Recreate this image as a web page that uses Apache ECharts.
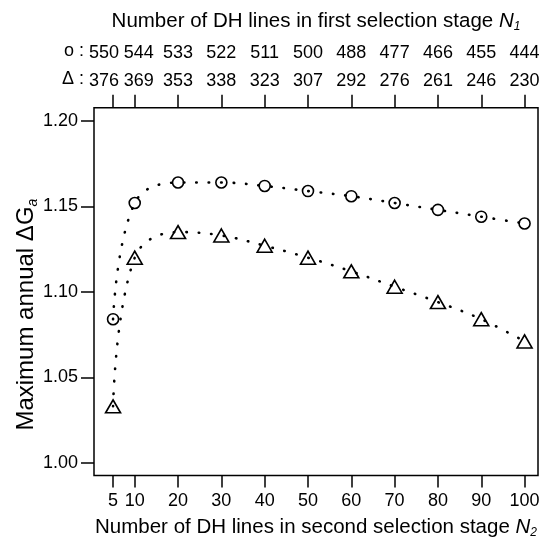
<!DOCTYPE html>
<html lang="en">
<head>
    <meta charset="UTF-8">
    <title>Maximum annual gain</title>
    <style>
        html, body { margin: 0; padding: 0; background: #fff; }
    </style>
</head>
<body>
<div id='main' style="height: 541px;width: 550px"></div>
</body>
<script src="https://cdn.jsdelivr.net/npm/echarts@6.0.0/dist/echarts.min.js"></script>
<script>
    // N2 values (bottom axis) and the matching N1 values shown on top
    var xTicks = [5, 10, 20, 30, 40, 50, 60, 70, 80, 90, 100];
    var n1Circle = ['550', '544', '533', '522', '511', '500', '488', '477', '466', '455', '444'];
    var n1Triangle = ['376', '369', '353', '338', '323', '307', '292', '276', '261', '246', '230'];
    var yTicks = [1.00, 1.05, 1.10, 1.15, 1.20];

    // maximum annual gain
    var circleY = [1.084, 1.152, 1.164, 1.164, 1.162, 1.159, 1.156, 1.152, 1.148, 1.144, 1.140];
    var triangleY = [1.033, 1.120, 1.135, 1.133, 1.127, 1.120, 1.112, 1.103, 1.094, 1.084, 1.071];

    var FONT = "'Liberation Sans', Arial, sans-serif";

    function pairs(ys) {
        return xTicks.map(function (x, i) { return [x, ys[i]]; });
    }

    // first two top labels sit too close, push them apart a little
    function topLabel(arr) {
        return function (v) {
            var i = xTicks.indexOf(v);
            if (i === 0) return '{l|' + arr[i] + '}';
            if (i === 1) return '{r|' + arr[i] + '}';
            return '{n|' + arr[i] + '}';
        };
    }
    var topRich = {
        l: {fontSize: 18, fontFamily: FONT, color: '#000', padding: [0, 18, 0, 0]},
        r: {fontSize: 18, fontFamily: FONT, color: '#000', padding: [0, 0, 0, 8]},
        n: {fontSize: 18, fontFamily: FONT, color: '#000'}
    };
    var subRich = {
        t: {fontSize: 20.5, fontFamily: FONT, color: '#000'},
        i: {fontSize: 20.5, fontFamily: FONT, color: '#000', fontStyle: 'italic'},
        s: {fontSize: 12, fontFamily: FONT, color: '#000', fontStyle: 'italic', verticalAlign: 'bottom', padding: [11, 0, 0, 0]}
    };
    var yRich = {
        t: {fontSize: 24, fontFamily: FONT, color: '#000'},
        s: {fontSize: 14, fontFamily: FONT, color: '#000', fontStyle: 'italic', verticalAlign: 'bottom', padding: [13, 0, 0, 0]}
    };

    var myChart = echarts.init(document.getElementById('main'));

    var lineStyle = {color: '#000', width: 2.6, type: [0.5, 12], cap: 'round'};
    var markStyle = {color: 'rgba(0,0,0,0)', borderColor: '#000', borderWidth: 1.6};

    var option = {
        backgroundColor: '#fff',
        animation: false,
        grid: {
            left: 94, right: 12, top: 107.7, bottom: 65.5,
            show: true, borderColor: '#000', borderWidth: 1.5,
            outerBoundsMode: 'none'
        },
        xAxis: [{
            type: 'value', position: 'bottom', min: 0.6, max: 103.1,
            axisLine: {show: false},
            axisTick: {customValues: xTicks, length: 12, lineStyle: {color: '#000', width: 1.5}},
            axisLabel: {customValues: xTicks, margin: 17, fontSize: 18, fontFamily: FONT, color: '#000'},
            splitLine: {show: false},
            name: '{t|Number of DH lines in second selection stage }{i|N}{s|2}',
            nameLocation: 'middle', nameGap: 40, nameMoveOverlap: false,
            nameTextStyle: {rich: subRich}
        }, {
            type: 'value', position: 'top', min: 0.6, max: 103.1,
            axisLine: {show: false},
            axisTick: {customValues: xTicks, length: 13, lineStyle: {color: '#000', width: 1.5}},
            axisLabel: {customValues: xTicks, margin: 18, formatter: topLabel(n1Triangle), rich: topRich},
            splitLine: {show: false}
        }, {
            type: 'value', position: 'top', min: 0.6, max: 103.1,
            axisLine: {show: false},
            axisTick: {show: false},
            axisLabel: {customValues: xTicks, margin: 46, formatter: topLabel(n1Circle), rich: topRich},
            splitLine: {show: false},
            name: '{t|Number of DH lines in first selection stage }{i|N}{s|1}',
            nameLocation: 'middle', nameGap: 75, nameMoveOverlap: false,
            nameTextStyle: {rich: subRich}
        }],
        yAxis: {
            type: 'value', min: 0.9925, max: 1.2078,
            axisLine: {show: false},
            axisTick: {customValues: yTicks, length: 13, lineStyle: {color: '#000', width: 1.5}},
            axisLabel: {
                customValues: yTicks, margin: 16, fontSize: 18, fontFamily: FONT, color: '#000',
                formatter: function (v) { return v.toFixed(2); }
            },
            splitLine: {show: false},
            name: '{t|Maximum annual ΔG}{s|a}',
            nameLocation: 'middle', nameGap: 54, nameRotate: 90, nameMoveOverlap: false,
            nameTextStyle: {rich: yRich, padding: [0, 46, 0, 0]}
        },
        graphic: [
            {type: 'text', right: 466, top: 42, style: {text: 'o :', font: '18px ' + FONT, fill: '#000'}},
            {type: 'text', right: 466, top: 70, style: {text: 'Δ :', font: '18px ' + FONT, fill: '#000'}}
        ],
        series: [{
            name: 'circle', type: 'line', data: pairs(circleY),
            smooth: 0.4, symbol: 'circle', symbolSize: 11,
            lineStyle: lineStyle, itemStyle: markStyle
        }, {
            name: 'triangle', type: 'line', data: pairs(triangleY),
            smooth: 0.4, symbol: 'triangle', symbolSize: [15, 13],
            lineStyle: lineStyle, itemStyle: markStyle
        }]
    };
    myChart.setOption(option);
</script>
</html>
